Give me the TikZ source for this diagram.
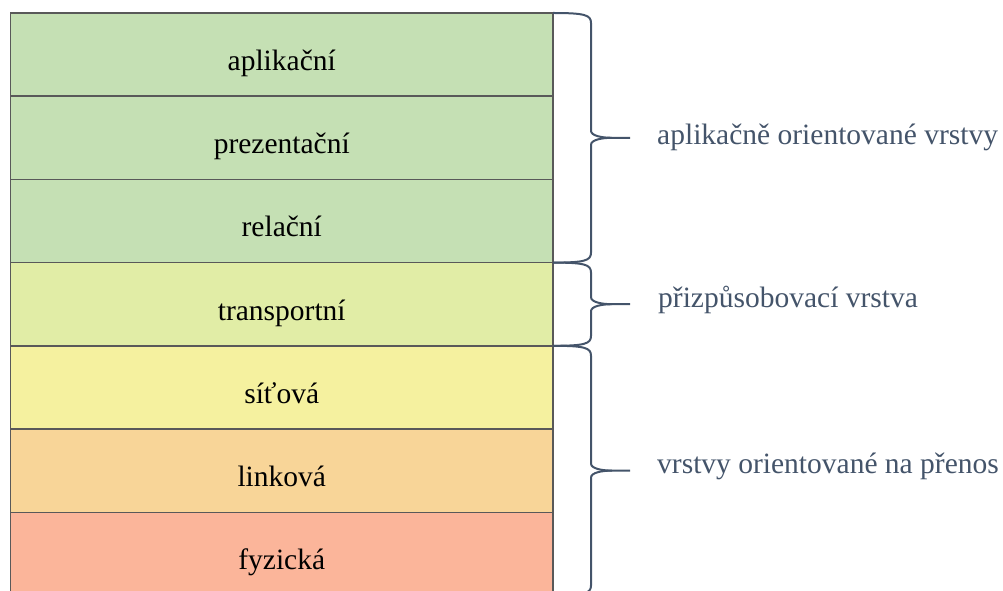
\documentclass[tikz,border=0pt]{standalone}
\usepackage{fontspec}
\setmainfont{LiberationSerif}[Extension=.ttf, UprightFont=*-Regular, BoldFont=*-Bold]
\usepackage{xcolor}
\usetikzlibrary{positioning,calc}

\definecolor{appgreen}{HTML}{C5E0B4}
\definecolor{transgreen}{HTML}{E1EDA6}
\definecolor{netyellow}{HTML}{F5F19F}
\definecolor{linkorange}{HTML}{F8D598}
\definecolor{physred}{HTML}{FBB59A}
\definecolor{slate}{HTML}{44546A}

\begin{document}
\begin{tikzpicture}[x=1pt, y=1pt,
        font=\fontsize{29.5}{35}\selectfont,
        layer/.style={draw=black!65, line width=1.4pt, minimum width=542.5pt, minimum height=83.2pt,
            inner sep=0pt, outer sep=0pt, text height=57.5pt, text depth=25.7pt},
        curly/.style={draw=slate, line width=2pt},
        side/.style={text=slate, anchor=base west, inner sep=0pt}]
    \useasboundingbox (0,0) rectangle (1003,590);
    \clip (0,0) rectangle (1003,590);

        \node[layer, fill=appgreen] (apl) at (281.75,535.4) {aplikační};
        \node[layer, fill=appgreen, below=0pt of apl] (pre) {prezentační};
        \node[layer, fill=appgreen, below=0pt of pre] (rel) {relační};
        \node[layer, fill=transgreen, below=0pt of rel] (tra) {transportní};
        \node[layer, fill=netyellow, below=0pt of tra] (sit) {síťová};
        \node[layer, fill=linkorange, below=0pt of sit] (lin) {linková};
        \node[layer, fill=physred, below=0pt of lin] (fyz) {fyzická};

        \coordinate (tipA) at ($(apl.north east)!0.5!(rel.south east)+(77,0)$);
        \coordinate (tipB) at ($(tra.north east)!0.5!(tra.south east)+(77,0)$);
        \coordinate (tipC) at ($(sit.north east)!0.5!(fyz.south east)+(77,0)$);

        \foreach \top/\bot/\tip in {apl/rel/tipA, tra/tra/tipB, sit/fyz/tipC} {
            \draw[curly]
                (\top.north east) .. controls +(32,0) and +(0,8) .. ([shift={(38,-10)}]\top.north east)
                -- ([shift={(-39,7)}]\tip) .. controls +(0,-5) and +(-10,0) .. ([xshift=-18pt]\tip) -- (\tip);
            \draw[curly]
                (\bot.south east) .. controls +(32,0) and +(0,-8) .. ([shift={(38,10)}]\bot.south east)
                -- ([shift={(-39,-7)}]\tip) .. controls +(0,5) and +(-10,0) .. ([xshift=-18pt]\tip);
        }

        \node[side] (lblA) at ([shift={(27,-6.5)}]tipA) {aplikačně orientované vrstvy};
        \node[side] (lblB) at ([shift={(28,-2.8)}]tipB) {přizpůsobovací vrstva};
        \node[side] (lblC) at ([shift={(27,-2.7)}]tipC) {vrstvy orientované na přenos};
\end{tikzpicture}
\end{document}
